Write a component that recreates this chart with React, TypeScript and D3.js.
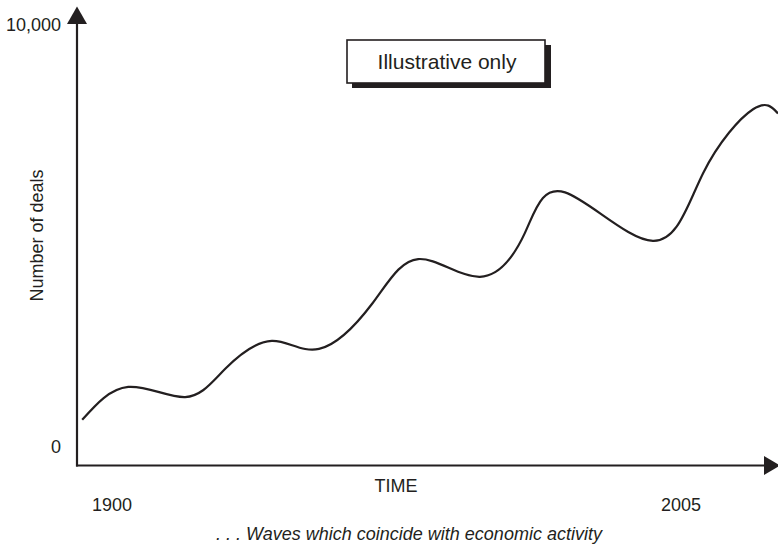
import React from "react";
import * as d3 from "d3";

const years = [
  1894.5, 1903.0, 1913.5, 1920.9, 1929.5, 1938.2, 1948.0, 1956.5, 1967.9, 1976.2,
  1983.6, 1999.8, 2009.1, 2018.3, 2022.9,
];
const deals = [
  620, 1400, 1160, 1830, 2490, 2300, 3370, 4430, 4010, 5050,
  6010, 4860, 6470, 7980, 7880,
];
const yTickLabels = ["0", "10,000"];
const yTickValues = [0, 10000];
const xTickValues = [1900, 2005];
const xTickLabels = ["1900", "2005"];
const yTitle = "Number of deals";
const xTitle = "TIME";
const boxText = "Illustrative only";
const caption = ". . . Waves which coincide with economic activity";

const W = 778;
const H = 546;
const FONT = "'Liberation Sans', Arial, Helvetica, sans-serif";
const INK = "#231f20";

export default function App() {
  const x = d3.scaleLinear().domain([1900, 2005]).range([112, 681]);
  const y = d3.scaleLinear().domain([0, 10000]).range([446, 24]);
  const axisX = 77;
  const axisY = 465.5;

  const pts: [number, number][] = years.map((yr, i) => [x(yr), y(deals[i])]);
  const line = d3
    .line<[number, number]>()
    .x((d) => d[0])
    .y((d) => d[1])
    .curve(d3.curveNatural);

  return (
    <div style={{ position: "absolute", left: 0, top: 0 }}>
      <svg width={W} height={H} style={{ display: "block", background: "#fff" }}>
        {/* y axis */}
        <line x1={axisX} y1={axisY + 1} x2={axisX} y2={22} stroke={INK} strokeWidth={2.2} />
        <polygon points={`${axisX - 10},24 ${axisX},6.5 ${axisX + 10},24`} fill={INK} />
        {/* x axis */}
        <line x1={axisX - 1} y1={axisY} x2={766} y2={axisY} stroke={INK} strokeWidth={2.2} />
        <polygon points={`764,${axisY - 9.5} 780,${axisY} 764,${axisY + 9.5}`} fill={INK} />

        {/* curve */}
        <path d={line(pts) || ""} fill="none" stroke={INK} strokeWidth={2.2} />

        {/* y tick labels */}
        {yTickValues.map((v, i) => (
          <text
            key={v}
            x={61}
            y={y(v) + 6.5}
            textAnchor="end"
            fontFamily={FONT}
            fontSize={18}
            fill={INK}
          >
            {yTickLabels[i]}
          </text>
        ))}
        {/* x tick labels */}
        {xTickValues.map((v, i) => (
          <text
            key={v}
            x={x(v)}
            y={511}
            textAnchor="middle"
            fontFamily={FONT}
            fontSize={18}
            fill={INK}
          >
            {xTickLabels[i]}
          </text>
        ))}
        {/* axis titles */}
        <text x={396} y={492} textAnchor="middle" fontFamily={FONT} fontSize={18} fill={INK}>
          {xTitle}
        </text>
        <text
          transform={`translate(43,235.5) rotate(-90)`}
          textAnchor="middle"
          fontFamily={FONT}
          fontSize={18}
          fill={INK}
        >
          {yTitle}
        </text>

        {/* illustrative box */}
        <rect x={352} y={45} width={199} height={43} fill={INK} />
        <rect x={347} y={40} width={198} height={43} fill="#fff" stroke={INK} strokeWidth={1.6} />
        <text x={447} y={69} textAnchor="middle" fontFamily={FONT} fontSize={21} fill={INK}>
          {boxText}
        </text>

        {/* caption */}
        <text
          x={409}
          y={540}
          textAnchor="middle"
          fontFamily={FONT}
          fontSize={18}
          fontStyle="italic"
          fill={INK}
        >
          {caption}
        </text>
      </svg>
    </div>
  );
}
